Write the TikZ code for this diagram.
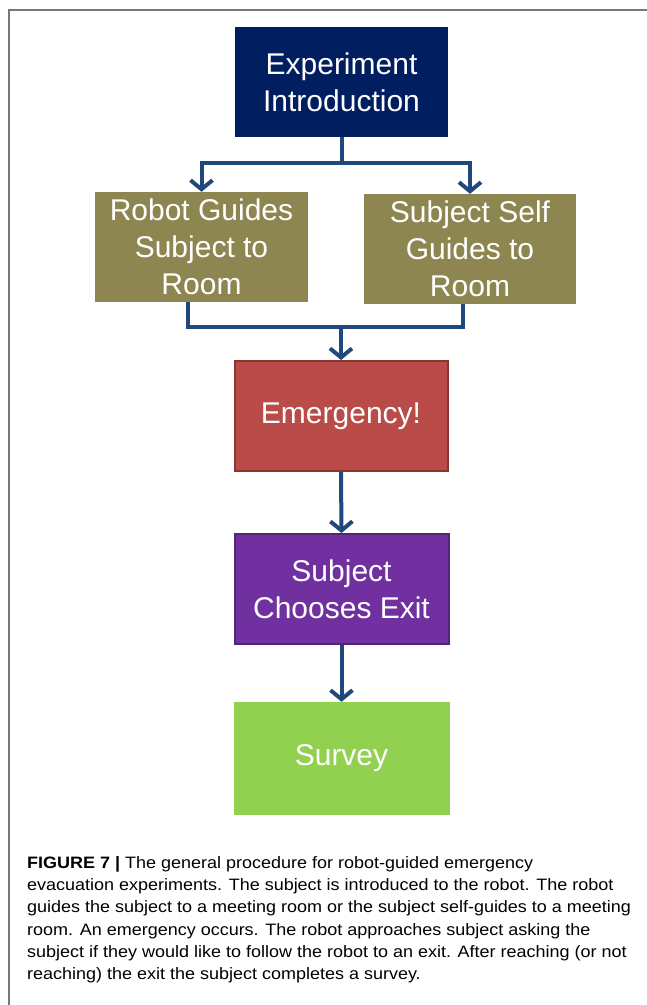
\documentclass[tikz,border=0pt]{standalone}
\usepackage{fontspec}
\setmainfont{Liberation Sans}
\newfontfamily\captionfont[FakeStretch=1.09]{Liberation Sans}
\usetikzlibrary{arrows.meta}

\begin{document}
\begin{tikzpicture}[x=1pt,y=-1pt,
    stepbox/.style={minimum width=213pt,minimum height=110pt,inner sep=0pt,
      text=white,align=center,font=\fontsize{30}{37}\selectfont},
    link/.style={draw=linkblue,line width=4pt},
    arr/.style={link,-{Straight Barb[length=9pt,width=22pt,line width=4pt]}}]
% Define colors
\definecolor{navy}{RGB}{0,30,96}
\definecolor{olive}{RGB}{142,134,80}
\definecolor{alarm}{RGB}{185,75,72}
\definecolor{alarmedge}{RGB}{140,52,50}
\definecolor{violet}{RGB}{112,48,160}
\definecolor{violetedge}{RGB}{84,36,120}
\definecolor{grass}{RGB}{146,208,80}
\definecolor{linkblue}{RGB}{31,73,125}
\definecolor{frame}{RGB}{120,120,120}

% Page and frame
\useasboundingbox[fill=white] (0,0) rectangle (647,1005);
\draw[frame,line width=1.5pt] (9,1005) -- (9,10) -- (647,10);

% Draw boxes
\node[stepbox,fill=navy] (intro) at (341.5,82) {Experiment\\Introduction};
\node[stepbox,fill=olive] (robot) at (201.5,247) {Robot Guides\\Subject to\\Room};
\node[stepbox,fill=olive,minimum width=212pt] (self) at (470,249) {Subject Self\\Guides to\\Room};
\node[stepbox,fill=alarm,draw=alarmedge,line width=2pt] (emerg) at (341,416) {Emergency!};
\node[stepbox,fill=violet,draw=violetedge,line width=2pt,minimum width=214pt] (choose) at (341.5,589) {Subject\\Chooses Exit};
\node[stepbox,fill=grass,minimum width=216pt,minimum height=113pt] (survey) at (341.5,758.5) {Survey};

% Draw connectors
\coordinate (split) at (341.5,163);
\coordinate (merge) at (341,327);
\draw[link] (intro.south) -- (split);
\draw[arr] (split) -| (robot.north);
\draw[arr] (split) -| (self.north);
\draw[link] ([xshift=-14pt]robot.south) |- (merge);
\draw[link] ([xshift=-7pt]self.south) |- (merge);
\draw[arr] (merge) -- (emerg.north);
\draw[arr] (emerg.south) -- (choose.north);
\draw[arr] (choose.south) -- (survey.north);

% Add caption
\node[anchor=north west,align=left,inner sep=0pt,font=\captionfont\fontsize{16.5}{22.3}\selectfont] (caption) at (27,856)
  {\textbf{FIGURE 7 |} The general procedure for robot-guided emergency\\
   evacuation experiments. The subject is introduced to the robot. The robot\\
   guides the subject to a meeting room or the subject self-guides to a meeting\\
   room. An emergency occurs. The robot approaches subject asking the\\
   subject if they would like to follow the robot to an exit. After reaching (or not\\
   reaching) the exit the subject completes a survey.};
\end{tikzpicture}
\end{document}
